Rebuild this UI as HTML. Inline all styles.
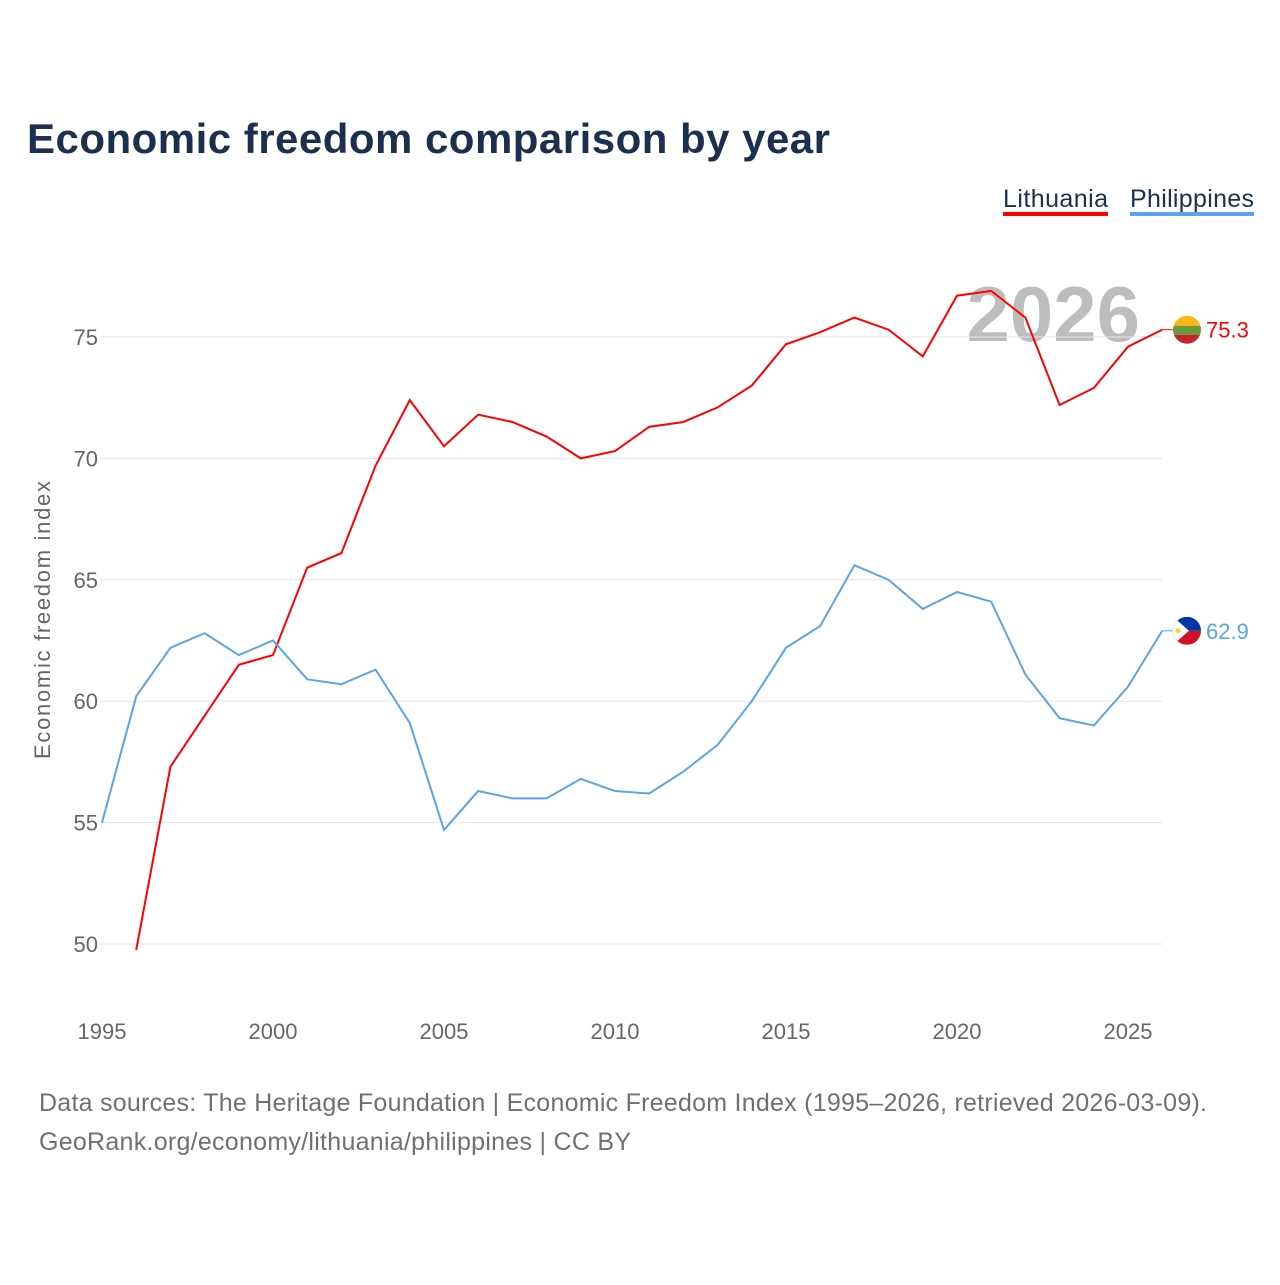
<!DOCTYPE html>
<html><head><meta charset="utf-8"><style>
body{margin:0;background:#fff;font-family:"Liberation Sans",sans-serif;}
</style></head><body>
<svg width="1280" height="1280" xmlns="http://www.w3.org/2000/svg">
<defs>
<clipPath id="cl1"><circle cx="1187" cy="0" r="14"/></clipPath>
</defs>
<text x="27" y="153" font-size="42" font-weight="bold" fill="#1b2f4e" textLength="803">Economic freedom comparison by year</text>
<g>
<text x="1003" y="207" font-size="25" fill="#1b2f4e" textLength="105">Lithuania</text>
<rect x="1003" y="212" width="105" height="4" fill="#ff0000"/>
<text x="1130" y="207" font-size="25" fill="#1b2f4e" textLength="124">Philippines</text>
<rect x="1130" y="212" width="124" height="4" fill="#5ba4ea"/>
</g>
<text x="1140" y="341" font-size="78" font-weight="bold" fill="#bdbdbd" text-anchor="end">2026</text>
<g id="grid"></g>
<g id="lines"></g>
<text transform="translate(50,620) rotate(-90)" font-size="22" fill="#666" text-anchor="middle" textLength="278">Economic freedom index</text>
<text x="39" y="1111" font-size="25" fill="#707070" textLength="1168">Data sources: The Heritage Foundation | Economic Freedom Index (1995–2026, retrieved 2026-03-09).</text>
<text x="39" y="1150" font-size="25" fill="#707070" textLength="592">GeoRank.org/economy/lithuania/philippines | CC BY</text>
</svg>
<script>
const years=[1995,1996,1997,1998,1999,2000,2001,2002,2003,2004,2005,2006,2007,2008,2009,2010,2011,2012,2013,2014,2015,2016,2017,2018,2019,2020,2021,2022,2023,2024,2025,2026];
const lithuania=[null,49.75,57.3,59.4,61.5,61.9,65.5,66.1,69.7,72.4,70.5,71.8,71.5,70.9,70.0,70.3,71.3,71.5,72.1,73.0,74.7,75.2,75.8,75.3,74.2,76.7,76.9,75.8,72.2,72.9,74.6,75.3];
const philippines=[55.0,60.2,62.2,62.8,61.9,62.5,60.9,60.7,61.3,59.1,54.7,56.3,56.0,56.0,56.8,56.3,56.2,57.1,58.2,60.0,62.2,63.1,65.6,65.0,63.8,64.5,64.1,61.1,59.3,59.0,60.6,62.9];
const yTicks=[50,55,60,65,70,75];
const xTicks=[1995,2000,2005,2010,2015,2020,2025];
const NS="http://www.w3.org/2000/svg";
const xs=y=>102+(y-1995)*34.2;
const ys=v=>337+(75-v)*24.28;
const grid=document.getElementById('grid'),lines=document.getElementById('lines');
function mk(t,a,p){const e=document.createElementNS(NS,t);for(const k in a)e.setAttribute(k,a[k]);p.appendChild(e);return e;}
yTicks.forEach(v=>{
 const l=mk('line',{x1:100,x2:1162,y1:ys(v),y2:ys(v),stroke:'#e6e6e6','stroke-width':1},grid);
 
 
 const t=mk('text',{x:98,y:ys(v)+8,'font-size':22,fill:'#666','text-anchor':'end'},grid);
 t.textContent=v;
 
 
});
xTicks.forEach(y=>{
 const t=mk('text',{x:xs(y),y:1039,'font-size':22,fill:'#666','text-anchor':'middle'},grid);
 t.textContent=y;
 
 
});
function flag(name,cy){
 const g=mk('g',{},lines);
 
 
 const cp=mk('clipPath',{id:'cp-'+name},g);
 mk('circle',{cx:1187,cy:cy,r:14},cp);
 const f=mk('g',{'clip-path':'url(#cp-'+name+')'},g);
 if(name==='lithuania'){
  mk('rect',{x:1173,y:cy-14,width:28,height:10,fill:'#fdb913'},f);
  mk('rect',{x:1173,y:cy-4,width:28,height:9,fill:'#6a9a3a'},f);
  mk('rect',{x:1173,y:cy+5,width:28,height:10,fill:'#c1272d'},f);
 } else {
  mk('rect',{x:1173,y:cy-14,width:28,height:14,fill:'#0038a8'},f);
  mk('rect',{x:1173,y:cy,width:28,height:14,fill:'#ce1126'},f);
  mk('polygon',{points:(1173)+','+(cy-14)+' '+(1189)+','+cy+' '+(1173)+','+(cy+14),fill:'#fff'},f);
  mk('circle',{cx:1178,cy:cy,r:2.5,fill:'#fcd116'},f);
 }
}
function series(vals,color,name){
 let d='';vals.forEach((v,i)=>{if(v==null)return;d+=(d?'L':'M')+xs(years[i])+','+ys(v);});
 const p=mk('path',{d:d,fill:'none',stroke:color,'stroke-width':2},lines);
 
 
 const last=vals[vals.length-1];
 const c=mk('line',{x1:1162,x2:1173,y1:ys(last),y2:ys(last),stroke:color,'stroke-width':1},lines);
 
 
 flag(name,ys(last));
 const t=mk('text',{x:1206,y:ys(last)+8,'font-size':22,fill:color},lines);
 t.textContent=last.toFixed(1);
 
 
}
series(lithuania,'#ff0000','lithuania');
series(philippines,'#5ba4ea','philippines');
</script>
</body></html>
